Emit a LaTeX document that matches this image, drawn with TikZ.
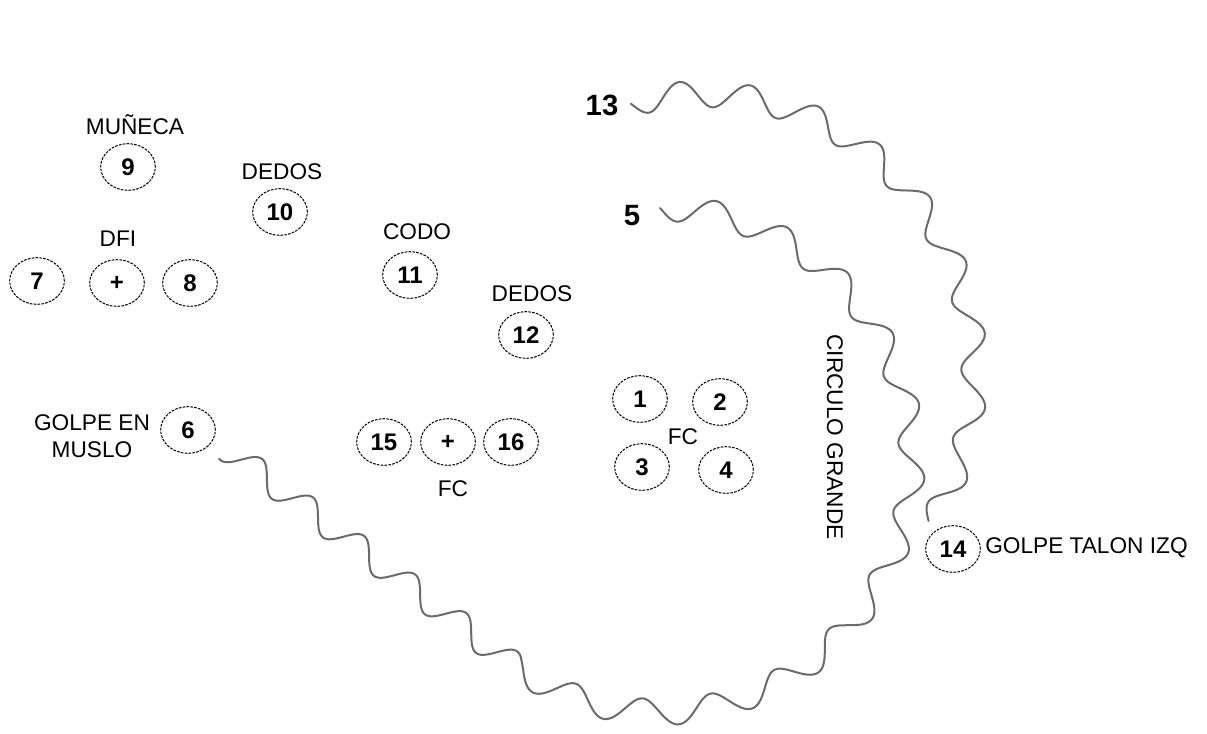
\documentclass[tikz,border=0pt]{standalone}
\usepackage{fontspec}
\setmainfont{Liberation Sans}
\usetikzlibrary{shapes.geometric}
\begin{document}
\begin{tikzpicture}[x=0.75pt,y=-0.75pt,
  num/.style={ellipse, draw=black, dash pattern=on 2pt off 0.9pt, line width=0.75pt,
    minimum width=41pt, minimum height=35pt, inner sep=0pt,
    font=\fontsize{18}{18}\selectfont\bfseries},
  lbl/.style={font=\fontsize{17}{20}\selectfont, inner sep=0pt},
  big/.style={font=\fontsize{22}{22}\selectfont\bfseries, inner sep=0pt},
  wavy/.style={draw=black!58, line width=1.5pt, line join=round, line cap=round}
]
\fill[white] (0,0) rectangle (1207,733);
\useasboundingbox (0,0) rectangle (1207,733);

% left group
\node[lbl] (muneca) at (135,125) {MUÑECA};
\node[num] (n9) at (128,167) {9};
\node[lbl] (dedosA) at (282,172) {DEDOS};
\node[num] (n10) at (280,212) {10};
\node[lbl] (dfi) at (118,239) {DFI};
\node[num] (n7) at (37,281) {7};
\node[num] (plusA) at (117,283) {+};
\node[num] (n8) at (190,283) {8};
\node[lbl] (codo) at (417,232) {CODO};
\node[num] (n11) at (410,275) {11};
\node[lbl] (dedosB) at (532,294) {DEDOS};
\node[num] (n12) at (526,335) {12};
\node[num] (n15) at (384,442) {15};
\node[num] (plusB) at (448,442) {+};
\node[num] (n16) at (511,442) {16};
\node[lbl] (fcA) at (453,489) {FC};
\node[num] (n6) at (188,430) {6};
\node[lbl, align=center] (muslo) at (92,436) {GOLPE EN\\MUSLO};

% FC square
\node[num] (n1) at (640,399) {1};
\node[num] (n2) at (720,402) {2};
\node[num] (n3) at (642,467) {3};
\node[num] (n4) at (726,470) {4};
\node[lbl] (fcB) at (683,437) {FC};

\node[lbl, rotate=-90] (circ) at (835,437) {CIRCULO GRANDE};
\node[num] (n14) at (953,549) {14};
\node[lbl, anchor=west] (talon) at (985,548) {GOLPE TALON IZQ};

\node[big] (n13) at (602,105) {13};
\node[big] (n5) at (632,216) {5};

% inner wave: from 5 round the right side, then down-left to 6
\draw[wavy]
  plot[domain=-90:125, samples=480, variable=\t]
    ({660 + (252 - 13*sin(21.99*(\t+90)))*cos(\t)},
     {460 + (252 - 13*sin(21.99*(\t+90)))*sin(\t)})
  -- plot[domain=0:362, samples=200, variable=\s]
    ({515.5 - 0.798*\s + 7.83*sin(5.625*(840.5+\s))},
     {666.4 - 0.602*\s - 10.37*sin(5.625*(840.5+\s))});

% outer wave: from 13 round to 14
\draw[wavy]
  plot[domain=-103:34, samples=320, variable=\t]
    ({690 + (263 + 0.2044*(\t+103) - 13*sin(24.86*(\t+103)))*cos(\t)},
     {360 + (263 + 0.2044*(\t+103) - 13*sin(24.86*(\t+103)))*sin(\t)});
\end{tikzpicture}
\end{document}
